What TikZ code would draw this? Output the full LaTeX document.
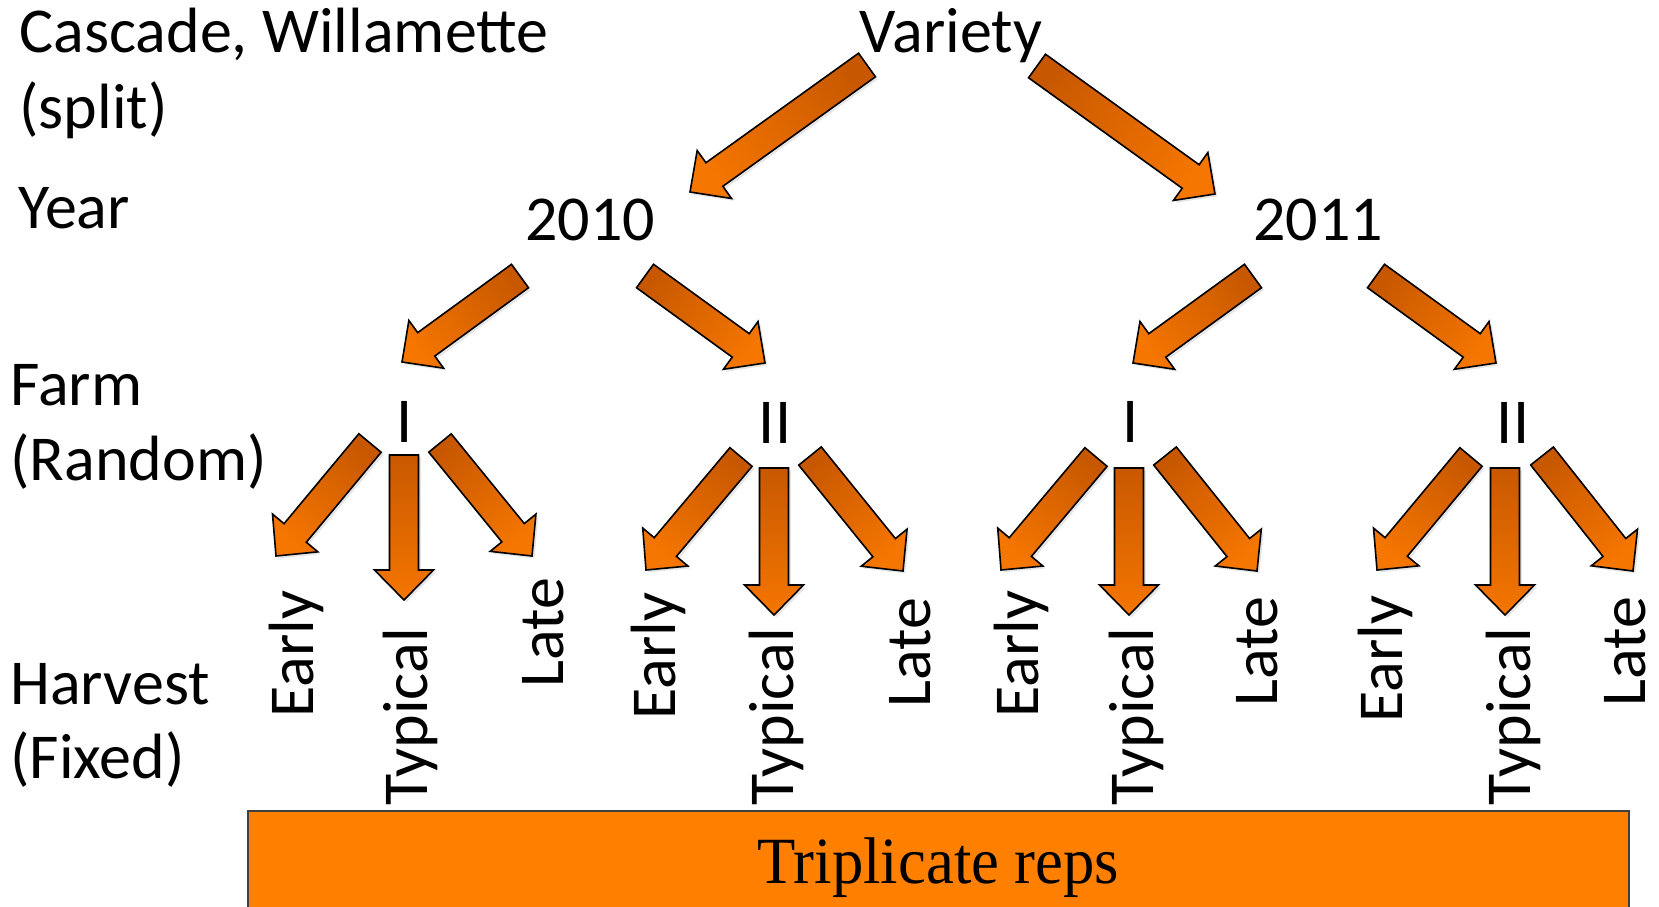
\documentclass[tikz,border=0pt]{standalone}
\usepackage{fontspec}
\usepackage{graphicx}
\setmainfont{Carlito}
\newfontfamily\repsfont{Liberation Serif}
\usetikzlibrary{shadows,calc}
\definecolor{arrowdark}{RGB}{200,88,0}
\definecolor{arrowlight}{RGB}{245,118,0}
\definecolor{boxorange}{RGB}{255,128,0}
\tikzset{
  barrow/.style={draw=black, line width=0.8pt, line join=miter,
    top color=arrowlight, bottom color=arrowdark,
    drop shadow={opacity=0.2, shadow xshift=1.2pt, shadow yshift=-1.2pt}},
  lbl/.style={inner sep=0pt, font=\fontsize{32}{38}\selectfont},
  harv/.style={lbl, rotate=90, anchor=base west},
}
% block arrow from tail coordinate #1 to tip coordinate #2
\newcommand\blockarrow[2]{%
  \pgfmathanglebetweenpoints{\pgfpointanchor{#1}{center}}{\pgfpointanchor{#2}{center}}%
  \pgfmathsetmacro\baangle{\pgfmathresult-90}%
  \coordinate (ba-b) at ($(#2)!15pt!(#1)$);
  \path[barrow, shading angle=\baangle]
    ($(#1)!7.25pt!90:(#2)$) -- ($(ba-b)!7.25pt!90:(#2)$) -- ($(ba-b)!14.75pt!90:(#2)$)
    -- (#2) -- ($(ba-b)!14.75pt!-90:(#2)$) -- ($(ba-b)!7.25pt!-90:(#2)$)
    -- ($(#1)!7.25pt!-90:(#2)$) -- cycle;
}
\begin{document}
\begin{tikzpicture}[x=0.5pt,y=-0.5pt]
\useasboundingbox (0,0) rectangle (1659,906);
% left labels
\node[lbl, anchor=base west] (cw) at (19,52) {Cascade, Willamette};
\node[lbl, anchor=base west] (split) at (19,128) {(split)};
\node[lbl, anchor=base west] (year) at (18,228) {Year};
\node[lbl, anchor=base west] (farm) at (10,405) {Farm};
\node[lbl, anchor=base west] (random) at (10,480) {(Random)};
\node[lbl, anchor=base west] (harvest) at (10,704) {Harvest};
\node[lbl, anchor=base west] (fixed) at (10,778) {(Fixed)};
% tree labels
\node[lbl, anchor=base] (variety) at (951,52) {Variety};
\node[lbl, anchor=base] (y10) at (590,240) {2010};
\node[lbl, anchor=base] (y11) at (1318,240) {2011};
\node[lbl, anchor=base] (f10a) at (405,442) {I};
\node[lbl, anchor=base] (f10b) at (775,443) {II};
\node[lbl, anchor=base] (f11a) at (1131,442) {I};
\node[lbl, anchor=base] (f11b) at (1513,443) {II};
% harvest labels
\node[harv] (e10a) at (313,718) {Early};
\node[harv] (t10a) at (427,806) {Typical};
\node[harv] (l10a) at (563,688) {Late};
\node[harv] (e10b) at (675,720) {Early};
\node[harv] (t10b) at (793,806) {Typical};
\node[harv] (l10b) at (930,708) {Late};
\node[harv] (e11a) at (1038,718) {Early};
\node[harv] (t11a) at (1153,806) {Typical};
\node[harv] (l11a) at (1277,707) {Late};
\node[harv] (e11b) at (1402,723) {Early};
\node[harv] (t11b) at (1530,806) {Typical};
\node[harv] (l11b) at (1645,707) {Late};
% arrow end points
\coordinate (vA) at (867,65);   \coordinate (vAt) at (690,192);
\coordinate (vB) at (1037,66);  \coordinate (vBt) at (1215,194);
\coordinate (a10L) at (520,276); \coordinate (a10Lt) at (402,362);
\coordinate (a10R) at (645,276); \coordinate (a10Rt) at (765,363);
\coordinate (a11L) at (1253,276); \coordinate (a11Lt) at (1133,363);
\coordinate (a11R) at (1376,276); \coordinate (a11Rt) at (1496,363);
\coordinate (g1L) at (370,443);  \coordinate (g1Lt) at (276,556);
\coordinate (g1M) at (404,455);  \coordinate (g1Mt) at (404,600);
\coordinate (g1R) at (440,443);  \coordinate (g1Rt) at (532,556);
\coordinate (g2L) at (741,457);  \coordinate (g2Lt) at (646,570);
\coordinate (g2M) at (774,468);  \coordinate (g2Mt) at (774,615);
\coordinate (g2R) at (810,456);  \coordinate (g2Rt) at (903,571);
\coordinate (g3L) at (1096,457); \coordinate (g3Lt) at (1001,570);
\coordinate (g3M) at (1129,468); \coordinate (g3Mt) at (1129,615);
\coordinate (g3R) at (1165,456); \coordinate (g3Rt) at (1257,571);
\coordinate (g4L) at (1471,457); \coordinate (g4Lt) at (1377,570);
\coordinate (g4M) at (1505,468); \coordinate (g4Mt) at (1505,615);
\coordinate (g4R) at (1542,456); \coordinate (g4Rt) at (1633,571);
\blockarrow{vA}{vAt}
\blockarrow{vB}{vBt}
\blockarrow{a10L}{a10Lt}
\blockarrow{a10R}{a10Rt}
\blockarrow{a11L}{a11Lt}
\blockarrow{a11R}{a11Rt}
\blockarrow{g1L}{g1Lt}
\blockarrow{g1M}{g1Mt}
\blockarrow{g1R}{g1Rt}
\blockarrow{g2L}{g2Lt}
\blockarrow{g2M}{g2Mt}
\blockarrow{g2R}{g2Rt}
\blockarrow{g3L}{g3Lt}
\blockarrow{g3M}{g3Mt}
\blockarrow{g3R}{g3Rt}
\blockarrow{g4L}{g4Lt}
\blockarrow{g4M}{g4Mt}
\blockarrow{g4R}{g4Rt}
% reps box
\node[draw=black!75, line width=1pt, fill=boxorange, minimum width=690.5pt, minimum height=57pt, inner sep=0pt] (reps) at (938.5,868) {\repsfont\fontsize{33}{40}\selectfont\scalebox{0.95}[1]{Triplicate reps}};
\end{tikzpicture}
\end{document}
